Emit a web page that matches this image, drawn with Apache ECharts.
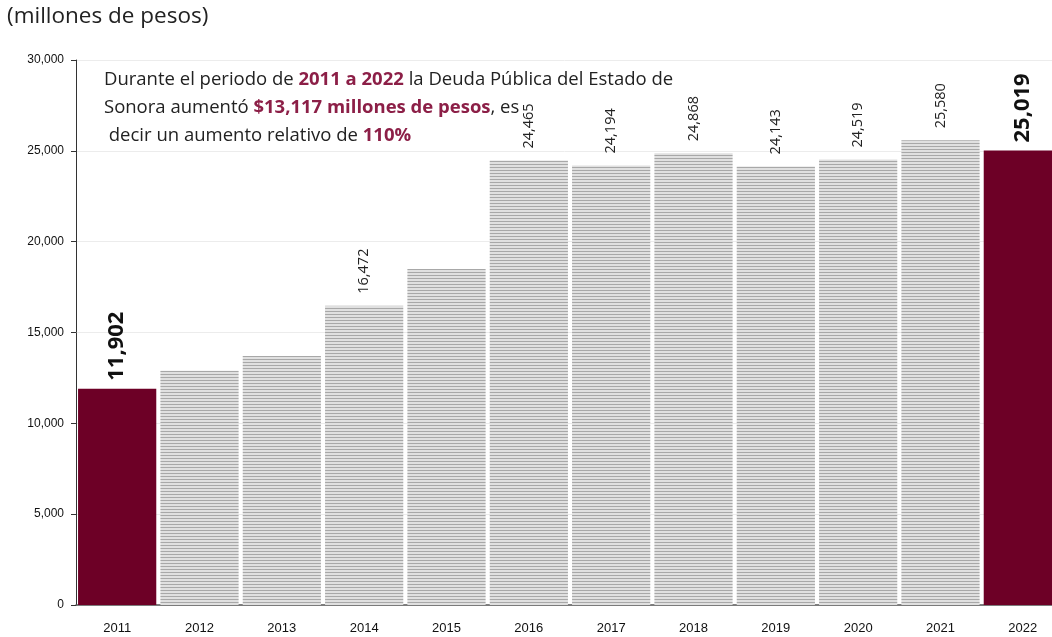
<!DOCTYPE html>
<html>
<head>
<meta charset="utf-8">
<script src="https://cdn.jsdelivr.net/npm/echarts@6/dist/echarts.min.js"></script>
<style>
html,body{margin:0;padding:0;background:#fff;}
#chart{width:1052px;height:637px;}
</style>
</head>
<body>
<div id="chart"></div>
<script>
// datos
var years = ['2011','2012','2013','2014','2015','2016','2017','2018','2019','2020','2021','2022'];
var deuda = [11902, 12900, 13700, 16472, 18500, 24465, 24194, 24868, 24143, 24519, 25580, 25019];
// que etiquetas se muestran: 0 = ninguna, 1 = normal, 2 = resaltada
var labelKind = [2, 0, 0, 1, 0, 1, 1, 1, 1, 1, 1, 2];

var maroon = '#6d0026';
var accent = '#8c1f47';

// patron de rayas horizontales para las barras grises
var pat = document.createElement('canvas');
pat.width = 4; pat.height = 3;
var ctx = pat.getContext('2d');
ctx.fillStyle = '#e0e0e0'; ctx.fillRect(0, 0, 4, 3);
ctx.fillStyle = '#a8a8a8'; ctx.fillRect(0, 2, 4, 1);

var fmt = function (v) { return v.toLocaleString('en-US'); };

var seriesData = deuda.map(function (v, i) {
	var item = { value: v };
	if (labelKind[i] == 2) {
		item.itemStyle = { color: maroon };
		item.label = { show: true, fontSize: 22, fontWeight: 'bold', color: '#111', distance: 8 };
	} else {
		item.itemStyle = { color: { image: pat, repeat: 'repeat' } };
		item.label = { show: labelKind[i] == 1 };
	}
	return item;
});

var chart = echarts.init(document.getElementById('chart'));
chart.setOption({
	animation: false,
	textStyle: { fontFamily: 'Open Sans' },
	// el grafico original sale recortado por la derecha
	grid: { left: 76, width: 988, top: 60, bottom: 32, outerBoundsMode: 'none' },
	graphic: [
		{
			type: 'text', left: 7, top: 5,
			style: { text: '(millones de pesos)', font: '22.5px "Open Sans"', fill: '#222' }
		},
		{
			type: 'text', left: 104, top: 66,
			style: {
				text: 'Durante el periodo de {b|2011 a 2022} la Deuda Pública del Estado de\n' +
					'Sonora aumentó {b|$13,117 millones de pesos}, es\n' +
					' decir un aumento relativo de {b|110%}',
				font: '18.5px "Open Sans"', fill: '#222', lineHeight: 28,
				rich: {
					b: { font: 'bold 18.5px "Open Sans"', fill: accent, lineHeight: 28 }
				}
			}
		}
	],
	xAxis: {
		type: 'category',
		data: years,
		axisLine: { lineStyle: { color: '#555', width: 1.5 } },
		axisTick: { show: false },
		axisLabel: { color: '#111', fontSize: 13, margin: 17, fontFamily: 'Liberation Sans' }
	},
	yAxis: {
		type: 'value',
		min: 0, max: 30000, interval: 5000,
		axisLine: { show: true, lineStyle: { color: '#333' } },
		axisTick: { show: true, length: 5, lineStyle: { color: '#333' } },
		axisLabel: { formatter: fmt, color: '#111', fontSize: 12, margin: 12, fontFamily: 'Liberation Sans' },
		splitLine: { lineStyle: { color: '#ececec' } }
	},
	series: [{
		type: 'bar',
		data: seriesData,
		barCategoryGap: '5%',
		label: {
			show: true,
			position: 'top',
			rotate: 90,
			align: 'left',
			verticalAlign: 'middle',
			distance: 12,
			fontSize: 14.5,
			color: '#222',
			formatter: function (p) { return fmt(p.value); }
		}
	}]
});
</script>
</body>
</html>
